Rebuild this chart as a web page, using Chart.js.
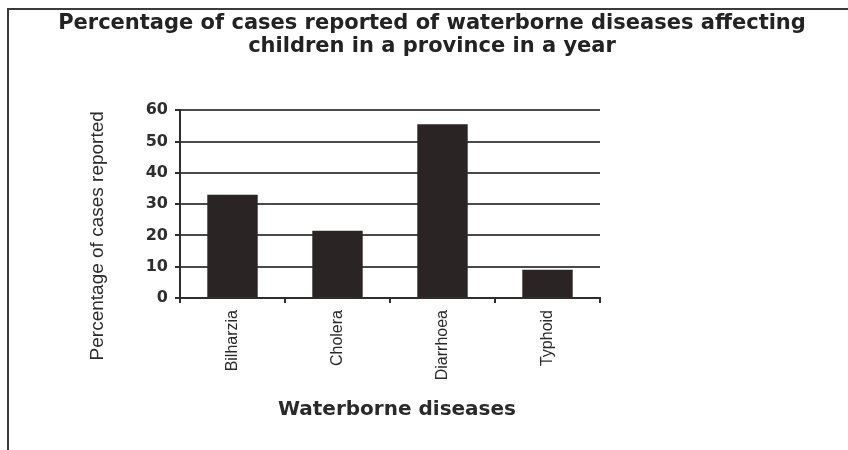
<!DOCTYPE html>
<html>
<head>
<meta charset="utf-8">
<script src="https://cdn.jsdelivr.net/npm/chart.js@4"></script>
<style>
  html, body { margin: 0; padding: 0; background: #fff; overflow: hidden; }
  #wrap { position: relative; width: 848px; height: 450px; }
  #frame { position: absolute; left: 7px; top: 8px; width: 900px; height: 500px;
           border: 2px solid #3c3a3c; pointer-events: none; }
  canvas { position: absolute; left: 0; top: 0; }
</style>
</head>
<body>
<div id="wrap">
  <div id="frame"></div>
  <canvas id="c" width="848" height="450"></canvas>
</div>
<script>
const titleLines = ["Percentage of cases reported of waterborne diseases affecting",
                    "children in a province in a year"];
const categories = ["Bilharzia", "Cholera", "Diarrhoea", "Typhoid"];
const percentages = [33, 21.5, 55.5, 9];
const yTicks = [0, 10, 20, 30, 40, 50, 60];
const xTitle = "Waterborne diseases";
const yTitle = "Percentage of cases reported";

const ink = '#2a2424';
new Chart(document.getElementById('c'), {
  type: 'bar',
  data: {
    labels: categories,
    datasets: [{
      data: percentages,
      backgroundColor: ink,
      borderWidth: 0,
      categoryPercentage: 1,
      barPercentage: 0.48
    }]
  },
  options: {
    responsive: false,
    animation: false,
    devicePixelRatio: 1,
    layout: { padding: { left: 16, right: 0, top: 0, bottom: 0 } },
    plugins: {
      legend: { display: false },
      tooltip: { enabled: false },
      title: {
        display: true,
        text: titleLines,
        color: '#232323',
        font: { family: 'DejaVu Sans', weight: 'bold', size: 21, lineHeight: 1.1 },
        padding: { top: 12, bottom: 52 }
      }
    },
    scales: {
      x: {
        offset: true,
        grid: { display: true, drawOnChartArea: false, drawTicks: true, tickLength: 5,
                color: '#2e2e2e', lineWidth: 2, offset: true },
        border: { display: true, color: '#2e2e2e', width: 2 },
        ticks: { color: '#2a2a2a', autoSkip: false, minRotation: 90, maxRotation: 90, padding: 7,
                 font: { family: 'Liberation Sans', size: 16 } },
        title: { display: true, text: '  ' + xTitle, color: '#2a2a2a',
                 font: { family: 'DejaVu Sans', weight: 'bold', size: 20, lineHeight: 1.2 },
                 padding: { top: 0, bottom: 28 } },
        afterFit: s => { s.height = 152; }
      },
      y: {
        min: 0, max: 60,
        afterBuildTicks: s => { s.ticks = yTicks.map(v => ({ value: v })); },
        grid: { color: '#4a4a4a', lineWidth: 2, drawTicks: true, tickLength: 5, tickColor: '#2e2e2e' },
        border: { display: true, color: '#2e2e2e', width: 2 },
        ticks: { color: '#2e2e2e', padding: 7,
                 font: { family: 'DejaVu Sans', weight: 'bold', size: 16 } },
        title: { display: true, text: yTitle + '            ', color: '#2a2a2a',
                 font: { family: 'Liberation Sans', size: 19, lineHeight: 1.2 },
                 padding: { top: 70, bottom: 0 } },
        afterFit: s => { s.width = 164; }
      },
      yRight: {
        type: 'linear',
        position: 'right',
        display: true,
        grid: { display: false, drawTicks: false },
        border: { display: false },
        ticks: { display: false },
        afterFit: s => { s.width = 248; }
      }
    }
  }
});
</script>
</body>
</html>
